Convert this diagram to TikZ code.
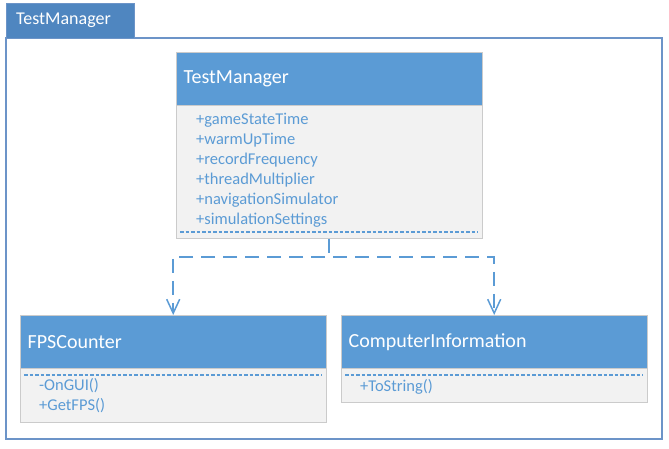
\documentclass[tikz,border=0pt]{standalone}
\usepackage{fontspec}
\setmainfont{Carlito}
\usetikzlibrary{arrows.meta,positioning}

\definecolor{umlblue}{HTML}{5B9BD5}
\definecolor{pkgblue}{HTML}{4F86C0}
\definecolor{pkgline}{HTML}{6C94C8}
\definecolor{bodygray}{HTML}{F2F2F2}
\definecolor{edgegray}{HTML}{CBCBCB}

\tikzset{
  pkgtab/.style={draw=pkgline, fill=pkgblue, text=white, anchor=north west,
    minimum width=128pt, minimum height=35pt, text width=108pt, inner xsep=10pt,
    align=left, font=\fontsize{18}{22}\selectfont},
  classhead/.style={draw=edgegray, fill=umlblue, text=white, anchor=north west,
    minimum width=306pt, minimum height=53pt, text width=291pt, inner xsep=7.5pt,
    align=left, font=\fontsize{20}{24}\selectfont},
  classbody/.style={draw=edgegray, fill=bodygray, anchor=north west,
    minimum width=306pt, inner sep=0pt},
  member/.style={anchor=base west, text=umlblue, inner sep=0pt,
    font=\fontsize{16.5}{20}\selectfont},
  sepline/.style={draw=umlblue, line width=1.4pt, dash pattern=on 3.5pt off 2pt},
  dep/.style={umlblue, line width=1.8pt, dash pattern=on 14pt off 8pt,
    -{Straight Barb[length=14pt,width=13pt,line width=1.5pt]}}
}

\begin{document}
\begin{tikzpicture}[x=1pt, y=-1pt]
    \useasboundingbox (0,0) rectangle (669,448);
    % package frame
    \draw[pkgline, line width=1.5pt] (6,38) rectangle (662,439);
    \node[pkgtab] (pkg) at (6,3) {TestManager};
    % class TestManager
    \node[classhead] (tm-head) at (176,52) {TestManager};
    \node[classbody, minimum height=133pt] (tm-body) at (tm-head.south west) {};
    \foreach \m [count=\i] in {+gameStateTime,+warmUpTime,+recordFrequency,
        +threadMultiplier,+navigationSimulator,+simulationSettings}{%
      \node[member] (tm-m\i) at (196,104+20*\i) {\m};}
    \draw[sepline] ([shift={(4pt,7pt)}]tm-body.south west) -- ([shift={(-4pt,7pt)}]tm-body.south east);
    % class FPSCounter
    \node[classhead] (fps-head) at (20,315) {FPSCounter};
    \node[classbody, minimum height=54pt] (fps-body) at (fps-head.south west) {};
    \draw[sepline] ([shift={(4pt,-6.5pt)}]fps-body.north west) -- ([shift={(-4pt,-6.5pt)}]fps-body.north east);
    \node[member] (fps-m1) at (39,390.5) {-OnGUI()};
    \node[member] (fps-m2) at (39,410.5) {+GetFPS()};
    % class ComputerInformation
    \node[classhead] (ci-head) at (341,315) {ComputerInformation};
    \node[classbody, minimum height=34pt] (ci-body) at (ci-head.south west) {};
    \draw[sepline] ([shift={(4pt,-6.5pt)}]ci-body.north west) -- ([shift={(-4pt,-6.5pt)}]ci-body.north east);
    \node[member] (ci-m1) at (360,391) {+ToString()};
    % dependencies
    \draw[dep] (tm-body.south) -- ++(0,18) -| (fps-head.north);
    \draw[dep] (tm-body.south) -- ++(0,18) -| (ci-head.north);
\end{tikzpicture}
\end{document}
